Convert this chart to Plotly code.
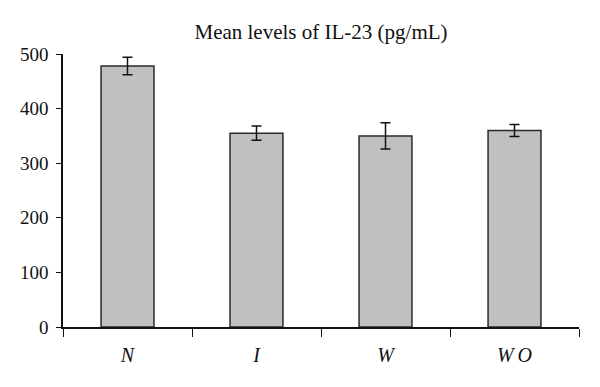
import plotly.graph_objects as go

categories = ["N", "I", "W", "WO"]
tick_labels = ["<i>N</i>", "<i>I</i>", "<i>W</i>", "<i>W\u2009O</i>"]
means = [478, 355, 350, 360]
errors = [16, 13, 24, 11]
y_ticks = [0, 100, 200, 300, 400, 500]

fig = go.Figure()
fig.add_trace(go.Bar(
    x=categories,
    y=means,
    width=0.41,
    marker=dict(color="#c0c0c0", line=dict(color="#2a2a2a", width=1.5)),
    error_y=dict(type="data", array=errors, visible=True,
                 color="#111111", thickness=1.5, width=5),
))

font_family = "'Liberation Serif', 'Times New Roman', Times, serif"
# page body adds an 8px offset; margins compensate for it
fig.update_layout(
    width=600, height=387,
    margin=dict(l=55, r=29, t=46, b=68),
    paper_bgcolor="white", plot_bgcolor="white",
    showlegend=False,
    title=dict(text="Mean levels of IL-23 (pg/mL)", xref="paper", x=0.5, xanchor="center",
               y=1 - 24 / 387, yanchor="middle",
               font=dict(family=font_family, size=21, color="#111111")),
    font=dict(family=font_family, size=19, color="#111111"),
)
fig.update_xaxes(
    type="category",
    tickmode="array", tickvals=categories, ticktext=tick_labels,
    tickson="boundaries", ticks="outside", ticklen=8, tickwidth=1.2, tickcolor="#111111",
    showline=True, linecolor="#111111", linewidth=1.5,
    showgrid=False, zeroline=False,
    ticklabelstandoff=9,
    tickfont=dict(family=font_family, size=20, color="#111111"),
)
fig.update_yaxes(
    range=[0, 500],
    tickmode="array", tickvals=y_ticks,
    ticks="outside", ticklen=5, tickwidth=1.2, tickcolor="#111111",
    showline=True, linecolor="#111111", linewidth=1.5,
    showgrid=False, zeroline=False,
    ticklabelstandoff=4,
    tickfont=dict(family=font_family, size=19, color="#111111"),
)

fig.write_html("out.html")
